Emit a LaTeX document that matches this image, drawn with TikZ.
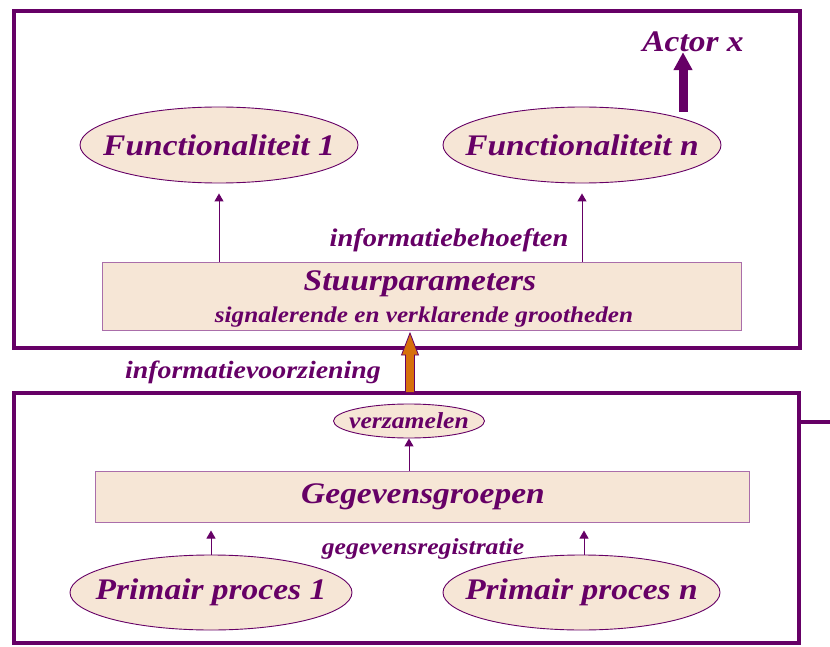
\documentclass[tikz,border=0pt]{standalone}
\usepackage{fontspec}
\setmainfont{Liberation Serif}[FakeStretch=1.12]
\usetikzlibrary{shapes.geometric,arrows.meta,calc}
\definecolor{plum}{RGB}{102,0,102}
\definecolor{beige}{RGB}{246,230,214}
\definecolor{boxline}{RGB}{170,110,170}
\definecolor{orng}{RGB}{214,112,12}
\tikzset{
  frame/.style={draw=plum, line width=4bp},
  oval/.style={ellipse, draw=plum, line width=0.9bp, fill=beige, inner sep=0pt},
  panel/.style={rectangle, draw=boxline, line width=1bp, fill=beige, inner sep=0pt},
  bigtxt/.style={text=plum, inner sep=0pt, font=\fontsize{30}{32}\selectfont\bfseries\itshape},
  smalltxt/.style={text=plum, inner sep=0pt, font=\fontsize{#1}{#1}\selectfont\bfseries\itshape},
  smalltxt/.default=23,
  thin/.style={draw=plum, line width=1bp, -{Triangle[length=8bp,width=9bp]}},
}
\begin{document}
\begin{tikzpicture}[x=1bp,y=-1bp]
\useasboundingbox (0,0) rectangle (830,647);
% frames
\draw[frame] (14,11) rectangle (800,348);
\draw[frame] (14,393) rectangle (799,643);
\draw[frame] (799,422) -- (830,422);
% top part
\node[oval, minimum width=278bp, minimum height=76bp, label={[bigtxt]center:Functionaliteit 1}] (f1) at (219,145) {};
\node[oval, minimum width=278bp, minimum height=76bp, label={[bigtxt]center:Functionaliteit n}] (fn) at (582,145) {};
\node[bigtxt] (actor) at (693,42) {Actor x};
\coordinate (actorfoot) at (683,112);
\draw[draw=plum, line width=9bp, -{Triangle[length=18bp,width=18bp]}] (actorfoot) -- (actor.south -| actorfoot);
\node[panel, minimum width=638bp, minimum height=68bp] (stuur) at (422,296) {};
\node[bigtxt] (stuurtxt) at (420,284) {Stuurparameters};
\node[smalltxt=22.6] (signal) at (424,317) {signalerende en verklarende grootheden};
\node[smalltxt=25.5] (behoefte) at (449,240) {informatiebehoeften};
\draw[thin] (stuur.north -| f1) -- ($(f1.south)+(0,10)$);
\draw[thin] (stuur.north -| fn) -- ($(fn.south)+(0,10)$);
% orange arrow
\coordinate (ob) at (410,392);
\coordinate (ot) at (410,333);
\draw[draw=plum, fill=orng, line width=0.8bp, line join=miter]
  ($(ob)+(-4.5,0)$) -- ($(ot)+(-4.5,22)$) -- ($(ot)+(-8.5,22)$) -- (ot)
  -- ($(ot)+(8.5,22)$) -- ($(ot)+(4.5,22)$) -- ($(ob)+(4.5,0)$);
\node[smalltxt=25] (voorz) at (253,372) {informatievoorziening};
% bottom part
\node[oval, minimum width=151bp, minimum height=34bp, label={[smalltxt=23]center:verzamelen}] (verz) at (409,421) {};
\node[panel, minimum width=653bp, minimum height=51bp] (geg) at (422.5,496.5) {};
\node[bigtxt] (gegtxt) at (423,497) {Gegevensgroepen};
\draw[thin] (geg.north -| verz) -- (verz.south);
\node[smalltxt=23] (registr) at (423,549) {gegevensregistratie};
\node[oval, minimum width=282bp, minimum height=75bp, label={[bigtxt]center:Primair proces 1}] (p1) at (211,592.5) {};
\node[oval, minimum width=277bp, minimum height=75bp, label={[bigtxt]center:Primair proces n}] (pn) at (581.5,592.5) {};
\draw[thin] (p1.north) -- ($(geg.south -| p1)+(0,8)$);
\draw[thin] (pn.north -| 584,0) -- ($(geg.south -| 584,0)+(0,8)$);
\end{tikzpicture}
\end{document}
